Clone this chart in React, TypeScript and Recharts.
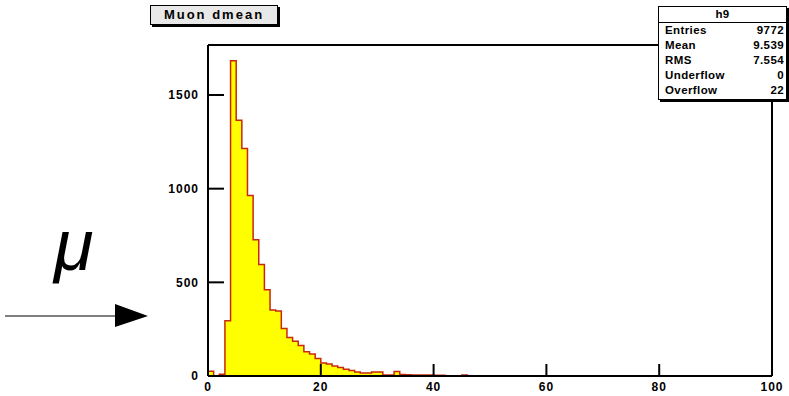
import React from 'react';
import { ComposedChart, Area, XAxis, YAxis } from 'recharts';

// bin contents of h9, 100 bins of width 1 from 0 to 100
const binCounts = [
  25, 0, 10, 295, 1683, 1365, 1215, 963, 727, 595,
  461, 352, 347, 254, 206, 186, 163, 129, 118, 93,
  70, 64, 54, 45, 36, 30, 21, 16, 16, 21,
  21, 5, 5, 24, 8, 7, 6, 6, 5, 5,
  4, 4, 0, 0, 0, 6, 0, 0, 0, 0,
  0, 0, 0, 0, 0, 0, 0, 0, 0, 0,
  0, 0, 0, 0, 0, 0, 0, 0, 0, 0,
  0, 0, 0, 0, 0, 0, 0, 0, 0, 0,
  0, 0, 0, 0, 0, 0, 0, 0, 0, 0,
  0, 0, 0, 0, 0, 0, 0, 0, 0, 0,
];
const xTicks = [0, 20, 40, 60, 80, 100];
const yTicks = [0, 500, 1000, 1500];
const yMax = 1767;

const histTitle = 'Muon dmean';
const statsName = 'h9';
const statsLabels = ['Entries', 'Mean', 'RMS', 'Underflow', 'Overflow'];
const statsValues = ['9772', '9.539', '7.554', '0', '22'];

// step points at bin low edges, plus the upper edge of the last bin
const histData = [
  ...binCounts.map((n, i) => ({ x: i, n })),
  { x: binCounts.length, n: binCounts[binCounts.length - 1] },
];

const FONT = '"Liberation Sans", Arial, Helvetica, sans-serif';
const tickFont = { fill: '#000', fontSize: 12, fontWeight: 'bold', fontFamily: FONT, letterSpacing: 1 };
const frame = { stroke: '#000', strokeWidth: 2 };

export default function App() {
  return (
    <div style={{ position: 'absolute', left: 0, top: 0, width: 789, height: 396, background: '#fff', overflow: 'hidden' }}>
      <ComposedChart width={789} height={396} data={histData} margin={{ top: 40, right: 0, bottom: 0, left: 0 }}>
        <XAxis
          xAxisId="b" dataKey="x" type="number" domain={[0, 100]} ticks={xTicks} interval={0}
          orientation="bottom" height={20} tickSize={-12} tickMargin={18}
          axisLine={frame} tickLine={frame} tick={tickFont}
        />
        <XAxis
          xAxisId="t" dataKey="x" type="number" domain={[0, 100]} ticks={xTicks} interval={0}
          orientation="top" height={5} tickSize={-12}
          axisLine={frame} tickLine={frame} tick={false}
        />
        <YAxis
          yAxisId="l" type="number" domain={[0, yMax]} ticks={yTicks} interval={0}
          width={208} tickSize={-16} tickMargin={25}
          axisLine={frame} tickLine={frame} tick={tickFont}
        />
        <YAxis
          yAxisId="r" orientation="right" type="number" domain={[0, yMax]} ticks={yTicks} interval={0}
          width={17} tickSize={-17}
          axisLine={frame} tickLine={frame} tick={false}
        />
        <Area
          xAxisId="b" yAxisId="l" type="stepAfter" dataKey="n"
          fill="#ffff00" fillOpacity={1} stroke="#c8280a" strokeWidth={1.5}
          dot={false} activeDot={false} isAnimationActive={false}
        />
      </ComposedChart>

      {/* title pave */}
      <div style={{
        position: 'absolute', left: 150, top: 5, width: 126, height: 18,
        background: '#e8e8e8', border: '1px solid #000', boxShadow: '2px 2px 0 #000',
        fontFamily: FONT, fontWeight: 'bold', fontSize: 13, letterSpacing: 2,
        lineHeight: '18px', textAlign: 'center', color: '#000',
      }}>{histTitle}</div>

      {/* stats pave */}
      <div style={{
        position: 'absolute', left: 658, top: 6, width: 127, height: 92,
        background: '#fff', border: '1px solid #000', boxShadow: '2px 2px 0 #000',
        fontFamily: FONT, fontWeight: 'bold', fontSize: 11.5, letterSpacing: 0.4, color: '#000',
      }}>
        <div style={{ height: 15, lineHeight: '15px', textAlign: 'center', borderBottom: '1px solid #000' }}>{statsName}</div>
        {statsLabels.map((label, i) => (
          <div key={label} style={{ display: 'flex', justifyContent: 'space-between', height: 15, lineHeight: '15px', padding: '0 2px 0 6px' }}>
            <span>{label}</span>
            <span>{statsValues[i]}</span>
          </div>
        ))}
      </div>

      {/* mu and arrow annotation */}
      <svg width={789} height={396} style={{ position: 'absolute', left: 0, top: 0, pointerEvents: 'none' }}>
        <text x={54} y={270} fontSize={72} fontStyle="italic" fontFamily={FONT} fill="#000">μ</text>
        <line x1={5} y1={316} x2={118} y2={316} stroke="#000" strokeWidth={1.2} />
        <polygon points="115,304 148,316 115,327" fill="#000" />
      </svg>
    </div>
  );
}
